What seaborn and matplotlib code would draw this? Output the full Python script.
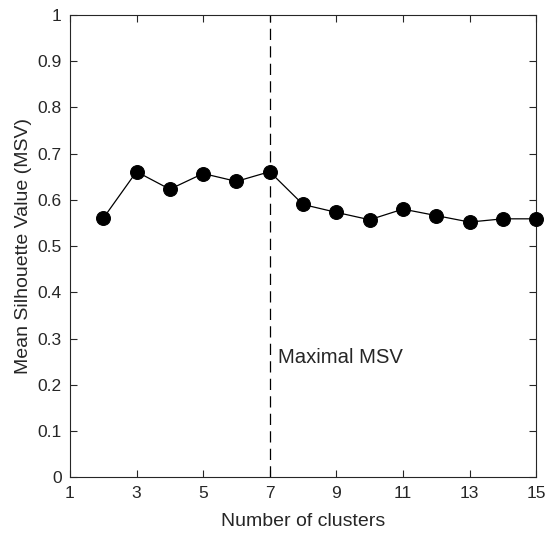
import numpy as np
import pandas as pd
import seaborn as sns
import matplotlib
matplotlib.use('Agg')
import matplotlib.pyplot as plt

# cluster counts and mean silhouette values
n_clusters = [2, 3, 4, 5, 6, 7, 8, 9, 10, 11, 12, 13, 14, 15]
msv = [0.560, 0.661, 0.623, 0.657, 0.640, 0.661, 0.590, 0.573, 0.557, 0.580, 0.566, 0.552, 0.559, 0.559]
best_k = 7
x_ticks = [1, 3, 5, 7, 9, 11, 13, 15]
y_ticks = [0, 0.1, 0.2, 0.3, 0.4, 0.5, 0.6, 0.7, 0.8, 0.9, 1]
y_tick_labels = ['0', '0.1', '0.2', '0.3', '0.4', '0.5', '0.6', '0.7', '0.8', '0.9', '1']

df = pd.DataFrame({'k': n_clusters, 'msv': msv})

sns.set_style('ticks')
plt.rcParams['font.family'] = ['Liberation Sans', 'DejaVu Sans']
text_col = '#262626'

fig = plt.figure(figsize=(5.46, 5.35), dpi=100)
ax = fig.add_axes([0.128, 0.108, 0.854, 0.864])

sns.lineplot(data=df, x='k', y='msv', ax=ax, color='black', linewidth=0.9,
             marker='o', markersize=10, markerfacecolor='black', markeredgecolor='black',
             clip_on=False, zorder=3)
ax.axvline(best_k, color='black', linestyle=(0, (9, 5)), linewidth=0.9)
ax.text(best_k + 0.25, 0.26, 'Maximal MSV', fontsize=14.6, color=text_col, va='center')

ax.set_xlim(1, 15)
ax.set_ylim(0, 1)
ax.set_xticks(x_ticks)
ax.set_yticks(y_ticks)
ax.set_yticklabels(y_tick_labels)
ax.tick_params(direction='in', length=5, width=0.8, labelsize=12.5, colors=text_col, pad=6,
               top=True, right=True, labeltop=False, labelright=False)
for s in ax.spines.values():
    s.set_visible(True)
    s.set_color(text_col)
    s.set_linewidth(0.8)
ax.set_xlabel('Number of clusters', fontsize=14, color=text_col, labelpad=9)
ax.set_ylabel('Mean Silhouette Value (MSV)', fontsize=14, color=text_col, labelpad=4)

fig.savefig('out.png', dpi=100)
